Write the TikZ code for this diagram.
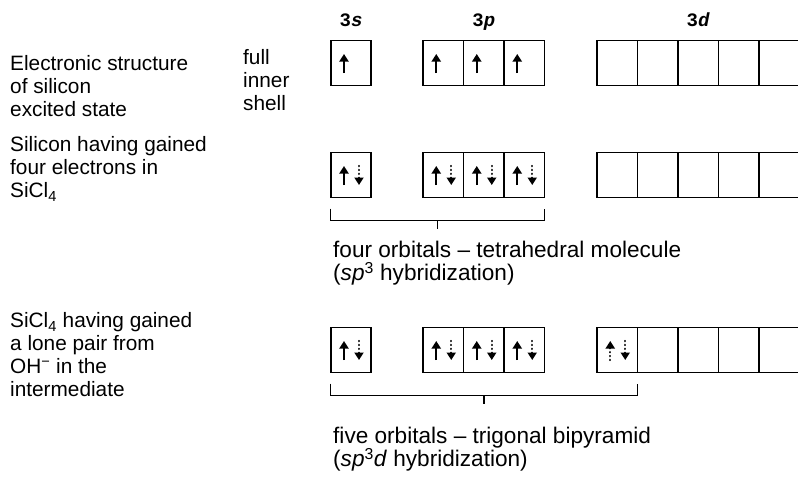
\documentclass[tikz,border=0pt]{standalone}
\usepackage{fontspec}
\setmainfont{Liberation Sans}
\newfontfamily\orbfont{Liberation Mono}
\usetikzlibrary{positioning, arrows.meta, calc}
\tikzset{
  orbital/.style={rectangle, draw=black, line width=1.7pt, minimum width=40.5pt, minimum height=45pt, inner sep=0pt, outer sep=0pt},
  elec/.style={line width=2pt, -{Triangle[width=9pt,length=7.5pt]}},
  elecdot/.style={elec, line width=2.4pt, line cap=round, dash pattern=on 0.1pt off 3.8pt},
  brack/.style={line width=1.4pt},
  note/.style={align=left, anchor=west, inner sep=0pt, font=\fontsize{20.8pt}{23pt}\selectfont},
  bignote/.style={note, font=\fontsize{22.6pt}{23.5pt}\selectfont},
  orblab/.style={font=\orbfont\bfseries\fontsize{19pt}{20pt}\selectfont, inner sep=0pt, text height=12pt, text depth=4pt}
}
% electrones dentro de un orbital
\newcommand{\eup}[1]{\draw[elec] ([xshift=-7pt,yshift=-10pt]#1.center) -- ++(0pt,19pt);}
\newcommand{\epair}[1]{\draw[elec] ([xshift=-7pt,yshift=-10pt]#1.center) -- ++(0pt,19pt);
  \draw[elecdot] ([xshift=8pt,yshift=9pt]#1.center) -- ++(0pt,-19pt);}
\newcommand{\edots}[1]{\draw[elecdot] ([xshift=-7pt,yshift=-10pt]#1.center) -- ++(0pt,19pt);
  \draw[elecdot] ([xshift=8pt,yshift=9pt]#1.center) -- ++(0pt,-19pt);}

\begin{document}
\begin{tikzpicture}[x=1pt, y=-1pt]
  \useasboundingbox (0,0) rectangle (798,479);

  % Fila 1: estado excitado
  \node[orbital] (exc_s) at (351,63) {};
  \node[orbital] (exc_p1) at (443.25,63) {};
  \node[orbital, right=0pt of exc_p1] (exc_p2) {};
  \node[orbital, right=0pt of exc_p2] (exc_p3) {};
  \node[orbital] (exc_d1) at (617.25,63) {};
  \node[orbital, right=0pt of exc_d1] (exc_d2) {};
  \node[orbital, right=0pt of exc_d2] (exc_d3) {};
  \node[orbital, right=0pt of exc_d3] (exc_d4) {};
  \node[orbital, right=0pt of exc_d4] (exc_d5) {};
  \eup{exc_s} \eup{exc_p1} \eup{exc_p2} \eup{exc_p3}

  % Etiquetas de los orbitales
  \node[orblab, above=10pt of exc_s] (lab_s) {3\textit{s}};
  \node[orblab, above=10pt of exc_p2] (lab_p) {3\textit{p}};
  \node[orblab, above=10pt of exc_d3] (lab_d) {3\textit{d}};

  % Fila 2: SiCl4
  \node[orbital] (sicl_s) at (351,175) {};
  \node[orbital] (sicl_p1) at (443.25,175) {};
  \node[orbital, right=0pt of sicl_p1] (sicl_p2) {};
  \node[orbital, right=0pt of sicl_p2] (sicl_p3) {};
  \node[orbital] (sicl_d1) at (617.25,175) {};
  \node[orbital, right=0pt of sicl_d1] (sicl_d2) {};
  \node[orbital, right=0pt of sicl_d2] (sicl_d3) {};
  \node[orbital, right=0pt of sicl_d3] (sicl_d4) {};
  \node[orbital, right=0pt of sicl_d4] (sicl_d5) {};
  \epair{sicl_s} \epair{sicl_p1} \epair{sicl_p2} \epair{sicl_p3}

  % Fila 3: intermedio
  \node[orbital] (int_s) at (351,350) {};
  \node[orbital] (int_p1) at (443.25,350) {};
  \node[orbital, right=0pt of int_p1] (int_p2) {};
  \node[orbital, right=0pt of int_p2] (int_p3) {};
  \node[orbital] (int_d1) at (617.25,350) {};
  \node[orbital, right=0pt of int_d1] (int_d2) {};
  \node[orbital, right=0pt of int_d2] (int_d3) {};
  \node[orbital, right=0pt of int_d3] (int_d4) {};
  \node[orbital, right=0pt of int_d4] (int_d5) {};
  \epair{int_s} \epair{int_p1} \epair{int_p2} \epair{int_p3}
  \edots{int_d1}

  % Llaves de hibridacion
  \draw[brack] ([yshift=-11pt]sicl_s.south west) -- ++(0pt,-12pt) -| ([yshift=-11pt]sicl_p3.south east);
  \draw[brack] ($(sicl_s.south west)!0.5!(sicl_p3.south east)+(0pt,-23pt)$) -- ++(0pt,-8pt);
  \draw[brack] ([yshift=-11pt]int_s.south west) -- ++(0pt,-12pt) -| ([yshift=-11pt]int_d1.south east);
  \draw[brack] ($(int_s.south west)!0.5!(int_d1.south east)+(0pt,-23pt)$) -- ++(0pt,-8pt);

  % Textos
  \node[note] (txt_exc) at (10,86) {Electronic structure\\of silicon\\excited state};
  \node[note] (txt_shell) at (243,80) {full\\inner\\shell};
  \node[note] (txt_sicl) at (10,169) {Silicon having gained\\four electrons in\\SiCl\textsubscript{4}};
  \node[note] (txt_int) at (10,355) {SiCl\textsubscript{4} having gained\\a lone pair from\\OH\textsuperscript{−} in the\\intermediate};
  \node[bignote] (txt_tetra) at (333,263) {four orbitals – tetrahedral molecule\\(\textit{sp}\textsuperscript{3} hybridization)};
  \node[bignote] (txt_bipy) at (333,449) {five orbitals – trigonal bipyramid\\(\textit{sp}\textsuperscript{3}\textit{d} hybridization)};
\end{tikzpicture}
\end{document}
